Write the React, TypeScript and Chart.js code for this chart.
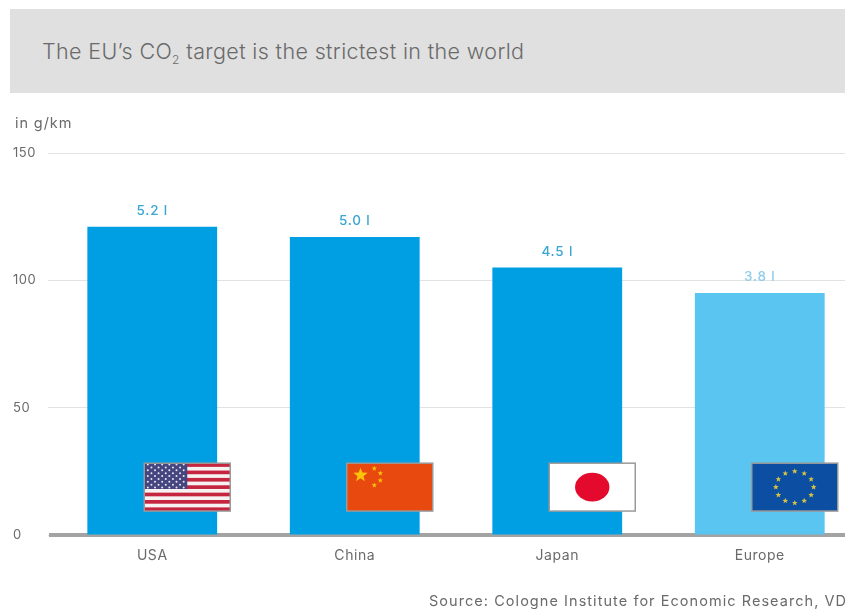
import { useEffect, useRef } from "react";
import { Chart, registerables } from "chart.js";

Chart.register(...registerables);

const categories = ["USA", "China", "Japan", "Europe"];
const emissions = [121, 117, 105, 95];
const consumptionLabels = ["5.2 l", "5.0 l", "4.5 l", "3.8 l"];
const barColors = ["#009fe3", "#009fe3", "#009fe3", "#5bc5f2"];
const labelColors = ["#3aa6d2", "#3aa6d2", "#3aa6d2", "#8fcde8"];
const flagKinds = ["us", "cn", "jp", "eu"];
const yTicks = [0, 50, 100, 150];
const unitLabel = "in g/km";
const sourceLabel = "Source: Cologne Institute for Economic Research, VDA";

const TEXT = "#6a6a6a";
const FONT = "Inter, sans-serif";

function star(ctx: CanvasRenderingContext2D, cx: number, cy: number, r: number, color: string) {
  ctx.fillStyle = color;
  ctx.beginPath();
  for (let i = 0; i < 10; i++) {
    const rad = i % 2 === 0 ? r : r * 0.42;
    const a = -Math.PI / 2 + (i * Math.PI) / 5;
    const px = cx + rad * Math.cos(a);
    const py = cy + rad * Math.sin(a);
    if (i === 0) ctx.moveTo(px, py);
    else ctx.lineTo(px, py);
  }
  ctx.closePath();
  ctx.fill();
}

function drawFlag(ctx: CanvasRenderingContext2D, kind: string, x: number, y: number, w: number, h: number) {
  ctx.save();
  if (kind === "us") {
    ctx.fillStyle = "#f6f2f2";
    ctx.fillRect(x, y, w, h);
    ctx.fillStyle = "#c5253f";
    for (let i = 0; i < 13; i += 2) ctx.fillRect(x, y + (i * h) / 13, w, h / 13);
    ctx.fillStyle = "#45457f";
    const cw = w * 0.5;
    const ch = (h * 7) / 13;
    ctx.fillRect(x, y, cw, ch);
    ctx.fillStyle = "#e8e8f2";
    for (let row = 0; row < 9; row++) {
      const count = row % 2 === 0 ? 6 : 5;
      for (let col = 0; col < count; col++) {
        const sx = x + ((col + (row % 2 === 0 ? 0.5 : 1)) * cw) / 6;
        const sy = y + ((row + 0.5) * ch) / 9;
        ctx.beginPath();
        ctx.arc(sx, sy, 1, 0, Math.PI * 2);
        ctx.fill();
      }
    }
  } else if (kind === "cn") {
    ctx.fillStyle = "#e8490f";
    ctx.fillRect(x, y, w, h);
    const gold = "#fcc30b";
    star(ctx, x + w * 0.16, y + h * 0.25, 7.5, gold);
    star(ctx, x + w * 0.32, y + h * 0.11, 2.8, gold);
    star(ctx, x + w * 0.39, y + h * 0.21, 2.8, gold);
    star(ctx, x + w * 0.39, y + h * 0.36, 2.8, gold);
    star(ctx, x + w * 0.32, y + h * 0.46, 2.8, gold);
  } else if (kind === "jp") {
    ctx.fillStyle = "#ffffff";
    ctx.fillRect(x, y, w, h);
    ctx.fillStyle = "#e30a2d";
    ctx.beginPath();
    ctx.ellipse(x + w / 2, y + h / 2, w * 0.2, h * 0.3, 0, 0, Math.PI * 2);
    ctx.fill();
  } else {
    ctx.fillStyle = "#0b4ea2";
    ctx.fillRect(x, y, w, h);
    for (let i = 0; i < 12; i++) {
      const a = (i * Math.PI) / 6;
      star(ctx, x + w / 2 + Math.sin(a) * w * 0.22, y + h / 2 - Math.cos(a) * h * 0.33, 3, "#d9c441");
    }
  }
  ctx.strokeStyle = "#9a9a9a";
  ctx.lineWidth = 1.5;
  ctx.strokeRect(x, y, w, h);
  ctx.restore();
}

// Slightly open tracking for every canvas text, axis ticks included.
const tracking = {
  id: "tracking",
  beforeDraw(chart: any) {
    chart.ctx.letterSpacing = "0.55px";
  },
};

// Consumption figures above the bars, flags over their lower part, and the free-standing captions.
const annotations = {
  id: "annotations",
  afterDatasetsDraw(chart: any) {
    const { ctx, scales } = chart;
    const { x: xs, y: ys } = scales;
    ctx.save();
    categories.forEach((_, i) => {
      const cx = xs.getPixelForValue(i);
      ctx.font = `500 13.5px ${FONT}`;
      ctx.letterSpacing = "0.8px";
      ctx.fillStyle = labelColors[i];
      ctx.textAlign = "center";
      ctx.textBaseline = "middle";
      ctx.fillText(consumptionLabels[i], cx, ys.getPixelForValue(emissions[i]) - 16);

      const top = ys.getPixelForValue(28.2);
      const bottom = ys.getPixelForValue(9.4);
      drawFlag(ctx, flagKinds[i], cx - 8, top, 86, bottom - top);
    });
    ctx.fillStyle = TEXT;
    ctx.textBaseline = "middle";
    ctx.textAlign = "left";
    ctx.letterSpacing = "0.9px";
    ctx.font = `14.5px ${FONT}`;
    ctx.fillText(unitLabel, 15, 124);
    ctx.letterSpacing = "1.05px";
    ctx.font = `14.5px ${FONT}`;
    ctx.fillText(sourceLabel, 429, 602);
    ctx.restore();
  },
};

export default function App() {
  const canvasRef = useRef<HTMLCanvasElement>(null);

  useEffect(() => {
    const chart = new Chart(canvasRef.current!, {
      type: "bar",
      data: {
        labels: categories,
        datasets: [
          {
            data: emissions,
            backgroundColor: barColors,
            barPercentage: 0.641,
            categoryPercentage: 1,
          },
        ],
      },
      options: {
        responsive: false,
        animation: false,
        layout: { padding: { top: 153, left: 13, right: 0, bottom: 0 } },
        plugins: { legend: { display: false }, tooltip: { enabled: false } },
        scales: {
          x: {
            afterFit: (scale: any) => {
              scale.height = 74;
            },
            grid: { display: false, drawTicks: false },
            border: { display: true, color: "#a3a3a3", width: 4 },
            ticks: {
              color: TEXT,
              font: { family: FONT, size: 14 },
              padding: 12,
              maxRotation: 0,
            },
          },
          y: {
            min: 0,
            max: 150,
            afterFit: (scale: any) => {
              scale.width = 38;
            },
            afterBuildTicks: (scale: any) => {
              scale.ticks = yTicks.map((value) => ({ value }));
            },
            grid: { color: "#e2e2e2", lineWidth: 1, drawTicks: true, tickLength: 3 },
            border: { display: false },
            ticks: {
              color: TEXT,
              crossAlign: "far",
              font: { family: FONT, size: 13 },
            },
          },
        },
      },
      plugins: [tracking, annotations],
    } as any);
    return () => chart.destroy();
  }, []);

  return (
    <div
      style={{
        position: "fixed",
        left: 0,
        top: 0,
        width: 845,
        height: 609,
        overflow: "hidden",
        background: "#fff",
      }}
    >
      <canvas ref={canvasRef} width={861} height={609} style={{ display: "block" }} />
      <div
        style={{
          position: "absolute",
          left: 10,
          top: 9,
          width: 835,
          height: 84,
          background: "#e0e0e0",
          color: TEXT,
          fontFamily: FONT,
          fontSize: 21.5,
          fontWeight: 300,
          letterSpacing: 0.36,
          lineHeight: "84px",
          paddingLeft: 32,
          boxSizing: "border-box",
          whiteSpace: "nowrap",
        }}
      >
        The EU’s CO<sub style={{ fontSize: 12, lineHeight: 0 }}>2</sub> target is the strictest in the world
      </div>
    </div>
  );
}
